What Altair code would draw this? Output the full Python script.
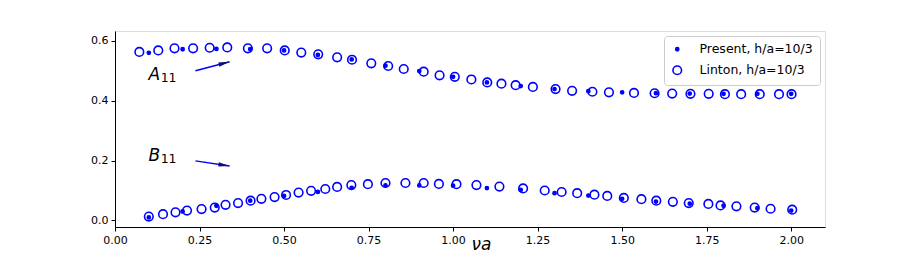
import altair as alt
import pandas as pd

# ---- data ----
present_x = [0.1, 0.2, 0.3, 0.4, 0.5, 0.6, 0.7, 0.8, 0.9, 1.0,
             1.1, 1.2, 1.3, 1.4, 1.5, 1.6, 1.7, 1.8, 1.9, 2.0]
present_A = [0.560, 0.572, 0.573, 0.572, 0.568, 0.553, 0.538, 0.517, 0.499, 0.480,
             0.461, 0.449, 0.439, 0.432, 0.428, 0.425, 0.424, 0.423, 0.423, 0.423]
present_B = [0.010, 0.030, 0.049, 0.066, 0.082, 0.095, 0.109, 0.117, 0.117, 0.116,
             0.108, 0.102, 0.091, 0.083, 0.072, 0.063, 0.056, 0.049, 0.041, 0.033]

linton_A_x = [0.072, 0.128, 0.176, 0.231, 0.280, 0.332, 0.393, 0.450, 0.502, 0.551,
              0.601, 0.657, 0.701, 0.758, 0.808, 0.854, 0.913, 0.960, 1.005, 1.054,
              1.101, 1.143, 1.185, 1.236, 1.303, 1.352, 1.412, 1.461, 1.535, 1.596,
              1.648, 1.702, 1.756, 1.804, 1.852, 1.907, 1.964, 2.001]
linton_A_y = [0.563, 0.568, 0.575, 0.575, 0.577, 0.578, 0.575, 0.575, 0.568, 0.561,
              0.555, 0.545, 0.537, 0.525, 0.516, 0.506, 0.497, 0.485, 0.480, 0.471,
              0.461, 0.457, 0.452, 0.446, 0.439, 0.433, 0.430, 0.428, 0.426, 0.425,
              0.424, 0.423, 0.423, 0.422, 0.422, 0.422, 0.422, 0.422]

linton_B_x = [0.100, 0.142, 0.179, 0.213, 0.256, 0.295, 0.327, 0.364, 0.401, 0.433,
              0.472, 0.506, 0.543, 0.580, 0.622, 0.657, 0.699, 0.748, 0.800, 0.859,
              0.913, 0.958, 1.010, 1.069, 1.137, 1.207, 1.271, 1.321, 1.367, 1.418,
              1.456, 1.505, 1.557, 1.601, 1.650, 1.697, 1.755, 1.791, 1.838, 1.892,
              1.939, 2.003]
linton_B_y = [0.013, 0.021, 0.027, 0.033, 0.038, 0.043, 0.052, 0.058, 0.066, 0.072,
              0.078, 0.085, 0.093, 0.099, 0.105, 0.112, 0.118, 0.121, 0.125, 0.125,
              0.125, 0.122, 0.121, 0.118, 0.113, 0.107, 0.100, 0.095, 0.091, 0.086,
              0.082, 0.075, 0.071, 0.066, 0.062, 0.058, 0.055, 0.050, 0.047, 0.043,
              0.039, 0.036]

series_names = ["Present, h/a=10/3", "Linton, h/a=10/3"]
x_ticks = [0.0, 0.25, 0.5, 0.75, 1.0, 1.25, 1.5, 1.75, 2.0]
y_ticks = [0.0, 0.1, 0.2, 0.3, 0.4, 0.5, 0.6]

# annotations
labels_main = ["A", "B"]
labels_x = [0.099, 0.099]
labels_y = [0.469, 0.199]
sub_x = [0.135, 0.135]
sub_y = [0.462, 0.191]
arrow_x = [0.238, 0.238]
arrow_y = [0.500, 0.199]
arrow_x2 = [0.339, 0.339]
arrow_y2 = [0.530, 0.182]
arrow_angle = [345, 8]

BLUE = "#0000ff"
FONT = "DejaVu Sans"

rows = []
for x, y in zip(linton_A_x, linton_A_y):
    rows.append({"x": x, "y": y, "series": series_names[1]})
for x, y in zip(linton_B_x, linton_B_y):
    rows.append({"x": x, "y": y, "series": series_names[1]})
for x, y in zip(present_x, present_A):
    rows.append({"x": x, "y": y, "series": series_names[0]})
for x, y in zip(present_x, present_B):
    rows.append({"x": x, "y": y, "series": series_names[0]})
df = pd.DataFrame(rows)

xscale = alt.Scale(domain=[0, 2.1], nice=False, zero=False, padding=0)
yscale = alt.Scale(domain=[-0.022, 0.633], nice=False, zero=False, padding=0)

xaxis = alt.Axis(values=x_ticks, format=".2f", title="νa", titleFontStyle="italic",
                 titleFontWeight="normal", titleFontSize=17, titleFont=FONT,
                 titleX=366, titleY=22, titleBaseline="alphabetic", titleAlign="center",
                 grid=False, tickSize=4, labelFontSize=11, labelFont=FONT,
                 labelFlush=False, labelOverlap=False,
                 labelColor="black", domainColor="black", tickColor="black", labelPadding=3)
yaxis = alt.Axis(values=y_ticks, format=".1f", title=None, grid=False, tickSize=4,
                 labelFontSize=11, labelFont=FONT, labelColor="black",
                 labelFlush=False, labelOverlap=False,
                 domainColor="black", tickColor="black", labelPadding=3)

points = alt.Chart(df).mark_point(stroke=BLUE, strokeWidth=1.6, opacity=1).encode(
    x=alt.X("x:Q", scale=xscale, axis=xaxis),
    y=alt.Y("y:Q", scale=yscale, axis=yaxis),
    fill=alt.Fill("series:N",
                  scale=alt.Scale(domain=series_names, range=[BLUE, "transparent"]),
                  legend=alt.Legend(title=None, orient="top-right", offset=5,
                                    labelFont=FONT, labelFontSize=12.5, labelColor="black",
                                    strokeColor="#cccccc", fillColor="white",
                                    cornerRadius=3, padding=7, rowPadding=6,
                                    labelOffset=16, symbolStrokeColor=BLUE,
                                    symbolStrokeWidth=1.6)),
    size=alt.Size("series:N",
                  scale=alt.Scale(domain=series_names, range=[10, 74]),
                  legend=alt.Legend(title=None, orient="top-right")),
)

ann_df = pd.DataFrame({"label": labels_main, "x": labels_x, "y": labels_y,
                       "sx": sub_x, "sy": sub_y})
main_txt = alt.Chart(ann_df).mark_text(align="left", baseline="alphabetic", font=FONT,
                                        fontStyle="italic", fontSize=17, color="black").encode(
    x=alt.X("x:Q", scale=xscale), y=alt.Y("y:Q", scale=yscale), text="label:N")
sub_txt = alt.Chart(ann_df).mark_text(align="left", baseline="alphabetic", font=FONT,
                                       fontSize=12.5, color="black").encode(
    x=alt.X("sx:Q", scale=xscale), y=alt.Y("sy:Q", scale=yscale), text=alt.value("11"))

arr_df = pd.DataFrame({"x": arrow_x, "y": arrow_y, "x2": arrow_x2, "y2": arrow_y2,
                       "angle": arrow_angle})
shaft = alt.Chart(arr_df).mark_rule(color=BLUE, strokeWidth=1.5).encode(
    x=alt.X("x:Q", scale=xscale), y=alt.Y("y:Q", scale=yscale),
    x2="x2:Q", y2="y2:Q")
head = alt.Chart(arr_df).mark_point(shape="M0,0 L-1,-0.2 L-1,0.2 Z", filled=True,
                                    color="#10106a", size=500, opacity=1).encode(
    x=alt.X("x2:Q", scale=xscale), y=alt.Y("y2:Q", scale=yscale),
    angle=alt.Angle("angle:Q", scale=None))

chart = alt.layer(points, shaft, head, main_txt, sub_txt).properties(
    width=710, height=196,
    padding={"left": 107, "top": 23, "right": 84, "bottom": 33},
    autosize=alt.AutoSizeParams(type="none"),
).configure_view(stroke="black", strokeWidth=1).configure(background="white")

chart.save("out.html", embed_options={"renderer": "svg", "actions": False})
